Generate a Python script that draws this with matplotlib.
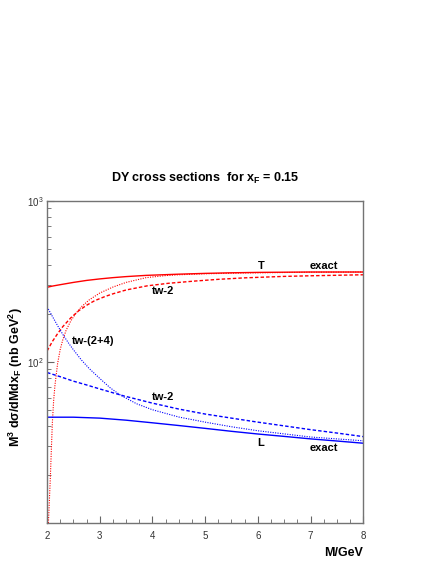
import matplotlib
matplotlib.use("Agg")
import matplotlib.pyplot as plt
import matplotlib.ticker as mticker

plt.rcParams["font.family"] = ["Liberation Sans", "DejaVu Sans"]
plt.rcParams["mathtext.fontset"] = "custom"
plt.rcParams["mathtext.rm"] = "Liberation Sans"
plt.rcParams["mathtext.it"] = "Liberation Sans:italic"
plt.rcParams["mathtext.bf"] = "Liberation Sans:bold"

##################################################
# Data
# transverse (T), red
m_t_exact = [2.0, 2.1, 2.25, 2.5, 2.75, 3.0, 3.25, 3.5, 3.88, 4.5, 5.0,
             5.5, 6.0, 7.0, 8.0]
t_exact = [291, 296, 302, 312, 321, 328, 334, 339, 345, 351, 355,
           358, 360, 362, 362]

m_t_tw2 = [2.0, 2.1, 2.2, 2.3, 2.45, 2.6, 2.75, 2.9, 3.1, 3.25, 3.5, 3.9,
           4.3, 4.8, 5.25, 5.75, 6.5, 7.0, 8.0]
t_tw2 = [117, 134, 150, 166, 188, 208, 225, 240, 255, 265, 280, 297,
         308, 318, 326, 333, 340, 343, 348]

m_t_tw24 = [2.025, 2.04, 2.06, 2.08, 2.1, 2.125, 2.15, 2.2, 2.25, 2.3, 2.36,
            2.45, 2.55, 2.65, 2.8, 3.0, 3.25, 3.5, 3.88, 4.25, 4.5, 5.0,
            5.75, 7.0, 8.0]
t_tw24 = [10, 13, 18.5, 28, 42, 58, 72, 98, 120, 138, 157,
          180, 201, 220, 243, 268, 292, 312, 334, 344, 348, 353,
          357, 361, 362]

# longitudinal (L), blue
m_l_exact = [2.0, 2.5, 3.0, 3.5, 4.0, 4.5, 5.0, 5.5, 6.0, 6.5, 7.0, 7.5, 8.0]
l_exact = [45.4, 45.4, 44.8, 43.5, 41.9, 40.3, 38.7, 37.1, 35.7, 34.5, 33.3,
           32.3, 31.3]

m_l_tw2 = [2.0, 2.25, 2.5, 2.75, 3.0, 3.46, 4.0, 4.5, 5.0, 5.5, 6.0, 6.5,
           7.0, 7.5, 8.0]
l_tw2 = [86, 81, 76, 72, 68, 61.5, 55.5, 51, 47.5, 44.8, 42.3, 40.1,
         38.0, 36.2, 34.4]

m_l_tw24 = [2.0, 2.1, 2.2, 2.3, 2.4, 2.5, 2.65, 2.8, 3.0, 3.2, 3.4, 3.7,
            4.0, 4.5, 5.0, 5.5, 6.0, 7.0, 8.0]
l_tw24 = [220, 192, 168, 148, 132, 119, 103, 91, 79, 69, 62, 55,
          50.5, 45.5, 42.3, 39.6, 37.4, 34.2, 32.4]

# curve labels: text, M, value
labels = [
    ("T", 6.06, 395), ("exact", 7.26, 395), ("tw-2", 4.2, 274),
    ("tw-(2+4)", 2.88, 135), ("tw-2", 4.2, 60.8),
    ("L", 6.06, 31.6), ("exact", 7.26, 29.2),
]

##################################################
# Plot
fig = plt.figure(figsize=(4.36, 5.64), dpi=100)
ax = fig.add_axes([0.108, 0.0727, 0.725, 0.571])

dash = (0, (2.5, 1.5))
dot = (0, (1, 1.2))
ax.plot(m_t_exact, t_exact, color="red", lw=1.0)
ax.plot(m_t_tw2, t_tw2, color="red", lw=1.0, ls=dash)
ax.plot(m_t_tw24, t_tw24, color="red", lw=0.8, ls=dot)
ax.plot(m_l_exact, l_exact, color="blue", lw=1.0)
ax.plot(m_l_tw2, l_tw2, color="blue", lw=1.0, ls=dash)
ax.plot(m_l_tw24, l_tw24, color="blue", lw=0.8, ls=dot)

for txt, x, y in labels:
    ax.text(x, y, txt, ha="center", va="center", fontsize=8, fontweight="bold")

ax.set_yscale("log")
ax.set_xlim(2, 8)
ax.set_ylim(10, 1000)

ax.xaxis.set_major_locator(mticker.MultipleLocator(1))
ax.xaxis.set_minor_locator(mticker.MultipleLocator(0.25))
ax.yaxis.set_major_locator(mticker.FixedLocator([100, 1000]))
ax.yaxis.set_major_formatter(mticker.FixedFormatter([r"$10^{\,2}$", r"$10^{\,3}$"]))
ax.yaxis.set_minor_locator(mticker.LogLocator(subs=range(2, 10)))
ax.yaxis.set_minor_formatter(mticker.NullFormatter())

ax.tick_params(which="both", direction="in", color="0.4", labelsize=7,
               labelcolor="0.2")
ax.tick_params(which="major", length=5, width=0.8)
ax.tick_params(which="minor", length=3, width=0.6)
ax.tick_params(axis="x", pad=6)
ax.tick_params(axis="y", pad=2)
for s in ax.spines.values():
    s.set_color("0.45")
    s.set_linewidth(1.0)

ax.set_title(r"DY cross sections  for x$_\mathbf{F}$ = 0.15", fontsize=9,
             fontweight="bold", pad=14)
fig.text(0.036, 0.332, r"M$^\mathbf{3}$ dσ/dMdx$_\mathbf{F}$ (nb GeV$^\mathbf{2}$)",
         rotation=90, ha="center", va="center", fontsize=9, fontweight="bold")
fig.text(0.787, 0.02, "M/GeV", ha="center", va="center", fontsize=9,
         fontweight="bold")

fig.savefig("out.png", dpi=100)
